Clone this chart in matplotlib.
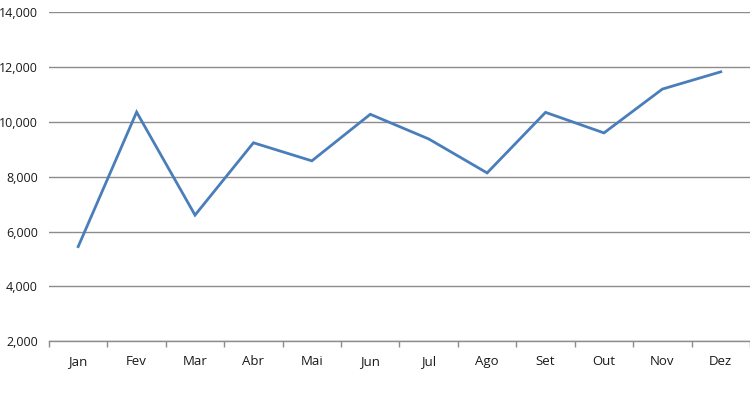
import matplotlib.pyplot as plt
from matplotlib.ticker import FuncFormatter, FixedLocator

months = ["Jan", "Fev", "Mar", "Abr", "Mai", "Jun", "Jul", "Ago", "Set", "Out", "Nov", "Dez"]
values = [5450, 10360, 6600, 9240, 8580, 10280, 9380, 8140, 10350, 9600, 11200, 11830]
y_ticks = [2000, 4000, 6000, 8000, 10000, 12000, 14000]

plt.rcParams["font.family"] = ["Open Sans", "DejaVu Sans"]

fig = plt.figure(figsize=(7.5, 4.12), dpi=100)
ax = fig.add_axes([0.0653, 0.172, 0.9347, 0.798])

x = list(range(len(months)))
ax.plot(x, values, color="#4A7EBB", lw=2.0, solid_joinstyle="miter", zorder=3)

ax.set_xlim(-0.5, len(months) - 0.5)
ax.set_ylim(2000, 14000)
ax.set_yticks(y_ticks)
ax.yaxis.set_major_formatter(FuncFormatter(lambda v, p: f"{int(v):,}"))
ax.grid(axis="y", color="#8C8C8C", lw=1.0)
ax.set_axisbelow(True)

ax.set_xticks(x)
ax.set_xticklabels(months)
ax.xaxis.set_minor_locator(FixedLocator([i - 0.5 for i in range(len(months) + 1)]))
ax.tick_params(axis="x", which="major", length=0, pad=10, labelsize=9.5, labelcolor="#1a1a1a")
ax.tick_params(axis="x", which="minor", length=4, color="#8C8C8C", width=1.0)
ax.tick_params(axis="y", length=0, pad=8, labelsize=9, labelcolor="#1a1a1a")

for side in ["top", "right", "left"]:
    ax.spines[side].set_visible(False)
ax.spines["bottom"].set_color("#8C8C8C")
ax.spines["bottom"].set_linewidth(1.0)

fig.savefig("out.png", dpi=100)
